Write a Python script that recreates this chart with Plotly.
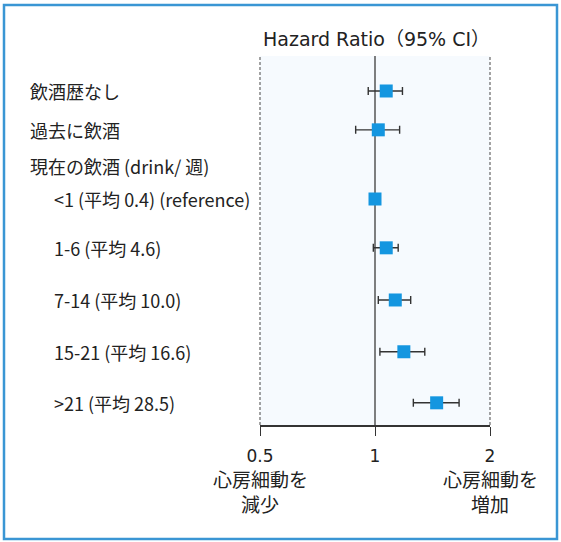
import plotly.graph_objects as go
import math

# ---- data ----
row_labels = ["飲酒歴なし", "過去に飲酒", "現在の飲酒 (drink/ 週)",
              "<1 (平均 0.4) (reference)", "1-6 (平均 4.6)", "7-14 (平均 10.0)",
              "15-21 (平均 16.6)", ">21 (平均 28.5)"]
row_indent = [0, 0, 0, 1, 1, 1, 1, 1]
hr = [1.07, 1.02, None, 1.00, 1.07, 1.13, 1.19, 1.45]
ci_lo = [0.96, 0.89, None, 1.00, 0.99, 1.02, 1.03, 1.26]
ci_hi = [1.18, 1.16, None, 1.00, 1.15, 1.24, 1.35, 1.66]
ref_value = 1.0
tick_vals = [0.5, 1, 2]
tick_text = ["0.5", "1", "2"]
side_note_x = [0.5, 2]
side_note_line1 = ["心房細動を", "心房細動を"]
side_note_line2 = ["減少", "増加"]
title_text = "Hazard Ratio（95% CI）"

# ---- layout helpers (row vertical positions) ----
row_pos = [0, 1.05, 2.03, 2.92, 4.24, 5.65, 7.05, 8.43]
y_range = [9.03, -0.946]

W, H = 561, 542
ML, MR, MT, MB = 260, 71, 56, 117
PW, PH = W - ML - MR, H - MT - MB

def px_x(p):
    return (p - ML) / PW

def px_y(p):
    return (H - MB - p) / PH

font_jp = "Noto Sans CJK JP"
font_lat = "DejaVu Sans, Noto Sans CJK JP"
txt_col = "#222222"

xs, ys, ep, em = [], [], [], []
for i in range(len(row_labels)):
    if hr[i] is None:
        continue
    xs.append(hr[i])
    ys.append(row_pos[i])
    ep.append(ci_hi[i] - hr[i])
    em.append(hr[i] - ci_lo[i])

fig = go.Figure()
# reference (no-effect) line at HR = 1
fig.add_trace(go.Scatter(
    x=[ref_value, ref_value], y=y_range, mode="lines",
    line=dict(color="#555555", width=1.5),
    hoverinfo="skip", showlegend=False, cliponaxis=False,
))
fig.add_trace(go.Scatter(
    x=xs, y=ys, mode="markers",
    marker=dict(symbol="square", size=13, color="#1496e0", line=dict(width=0)),
    error_x=dict(type="data", symmetric=False, array=ep, arrayminus=em,
                 color="#333333", thickness=1.4, width=4),
    hoverinfo="skip", showlegend=False,
))

annotations = []
for i, lab in enumerate(row_labels):
    annotations.append(dict(
        text=lab, xref="paper", yref="y",
        x=px_x(28 if row_indent[i] == 0 else 52), y=row_pos[i],
        xanchor="left", yanchor="middle", showarrow=False,
        font=dict(family=font_jp, size=18, color=txt_col),
    ))
for v, l1, l2 in zip(side_note_x, side_note_line1, side_note_line2):
    for txt, py in ((l1, 479), (l2, 503)):
        annotations.append(dict(
            text=txt, xref="x", yref="paper", x=math.log10(v), y=px_y(py),
            xanchor="center", yanchor="middle", showarrow=False,
            font=dict(family=font_jp, size=19, color=txt_col),
        ))
annotations.append(dict(
    text=title_text, xref="paper", yref="paper", x=px_x(376), y=px_y(39),
    xanchor="center", yanchor="middle", showarrow=False,
    font=dict(family=font_lat, size=19, color=txt_col),
))

shapes = [
    # dashed bounds
    dict(type="line", xref="paper", yref="paper", x0=0, x1=0,
         y0=0, y1=1, line=dict(color="#666666", width=1.2, dash="3px,2px"), layer="above"),
    dict(type="line", xref="paper", yref="paper", x0=1, x1=1,
         y0=0, y1=1, line=dict(color="#666666", width=1.2, dash="3px,2px"), layer="above"),
    # frame
    dict(type="rect", xref="paper", yref="paper",
         x0=px_x(4), x1=px_x(557), y0=px_y(539), y1=px_y(5),
         line=dict(color="#3a96d4", width=2.5), fillcolor="rgba(0,0,0,0)"),
]

fig.update_layout(
    width=W, height=H,
    margin=dict(l=ML, r=MR, t=MT, b=MB, pad=0),
    paper_bgcolor="white", plot_bgcolor="#f6fafe",
    annotations=annotations, shapes=shapes,
    xaxis=dict(type="log", range=[math.log10(0.5), math.log10(2)],
               tickvals=tick_vals, ticktext=tick_text,
               showline=True, linecolor="#333333", linewidth=2,
               ticks="outside", ticklen=9, tickcolor="#333333", tickwidth=1.2,
               ticklabelstandoff=6,
               showgrid=False, zeroline=False,
               tickfont=dict(family=font_lat, size=17, color=txt_col)),
    yaxis=dict(range=y_range, showticklabels=False, showgrid=False,
               zeroline=False, showline=False, ticks=""),
)

fig.write_html("out.html", config={"displayModeBar": False},
               post_script="document.body.style.margin='0';")
